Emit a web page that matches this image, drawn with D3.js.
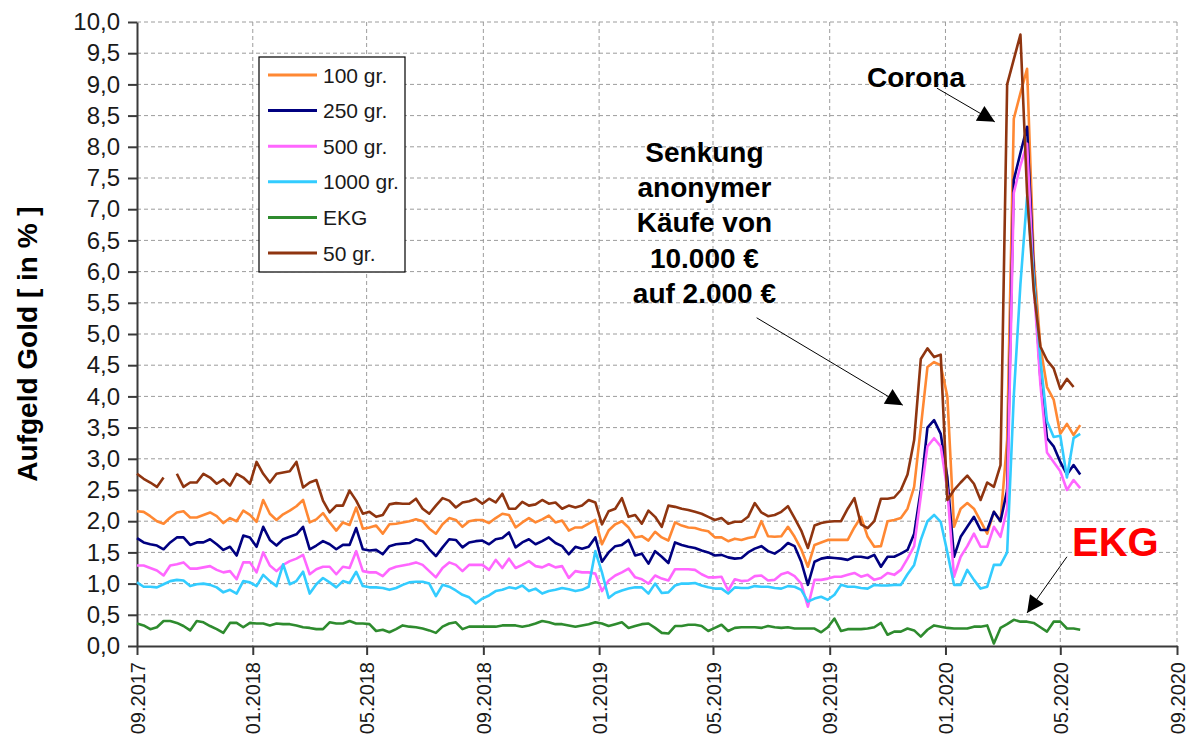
<!DOCTYPE html>
<html>
<head>
<meta charset="utf-8">
<script src="https://cdn.jsdelivr.net/npm/d3@7"></script>
<style>
body { margin: 0; background: #fff; }
svg { display: block; font-family: "Liberation Sans", Arial, sans-serif; }
.grid line { stroke: #9c9c9c; stroke-width: 1; stroke-dasharray: 4,3; }
.series { fill: none; stroke-width: 2.6; stroke-linejoin: round; }
.axis path, .axis line { stroke: #3a3a3a; stroke-width: 2; }
.axis text { fill: #1a1a1a; }
</style>
</head>
<body>
<svg width="1192" height="742"></svg>
<script>
const width = 1192;
const height = 742;
const svg = d3.select("svg");

// weekly quotes, first week 01.09.2017
const firstWeek = "2017-09-01";
const axisStart = "2017-09-01";
const axisEnd = "2020-09-01";

const gr100 = [
  2.16,2.15,2.08,2.00,1.96,2.06,2.14,2.16,2.06,2.06,2.10,2.14,2.08,1.97,2.05,2.00,2.17,2.10,1.99,
  2.34,2.12,2.02,2.11,2.17,2.24,2.34,1.98,2.03,2.13,1.98,1.85,1.98,1.94,2.22,1.88,1.90,1.93,
  1.80,1.95,1.96,1.98,2.00,2.03,2.00,1.88,1.80,1.95,2.05,2.02,1.91,2.00,2.02,2.02,1.97,2.05,
  2.12,2.10,1.90,1.98,2.05,1.98,2.03,2.09,1.98,2.01,1.85,1.90,1.90,1.96,2.02,1.63,1.85,1.95,
  2.00,1.90,1.74,1.76,1.69,1.83,1.74,1.69,1.98,1.93,1.90,1.89,1.86,1.84,1.74,1.74,1.68,1.72,1.70,
  1.73,1.75,2.00,1.76,1.75,
  1.76,1.91,1.75,1.55,1.27,1.62,1.66,1.70,1.70,1.70,1.70,1.90,2.07,1.75,1.59,1.60,2.00,2.02,2.05,
  2.20,2.55,3.50,4.47,4.55,4.50,4.00,1.91,2.20,2.29,2.20,2.00,1.80,2.15,2.00,3.30,8.45,8.86,9.25,
  6.20,4.80,4.15,3.95,3.40,3.56,3.38,3.54
];

const gr250 = [
  1.73,1.66,1.63,1.61,1.55,1.66,1.74,1.74,1.62,1.66,1.66,1.71,1.63,1.54,1.59,1.45,1.77,1.74,1.59,
  1.91,1.70,1.61,1.71,1.75,1.79,1.91,1.55,1.61,1.68,1.63,1.55,1.62,1.62,1.89,1.55,1.53,1.54,
  1.47,1.60,1.63,1.64,1.65,1.71,1.68,1.55,1.44,1.58,1.71,1.70,1.58,1.66,1.68,1.69,1.63,1.71,
  1.73,1.82,1.58,1.66,1.71,1.63,1.68,1.74,1.65,1.60,1.47,1.59,1.56,1.59,1.74,1.35,1.50,1.60,
  1.62,1.70,1.45,1.48,1.32,1.52,1.43,1.33,1.66,1.62,1.59,1.57,1.53,1.50,1.45,1.46,1.42,1.40,1.41,
  1.50,1.56,1.60,1.52,1.48,
  1.55,1.65,1.60,1.35,0.98,1.35,1.40,1.42,1.41,1.40,1.38,1.43,1.43,1.41,1.46,1.27,1.43,1.43,1.48,
  1.54,1.80,2.50,3.50,3.62,3.40,2.70,1.43,1.75,1.91,2.07,1.86,1.86,2.15,2.00,2.50,7.47,7.90,8.32,
  6.00,4.30,3.33,3.20,2.95,2.75,2.90,2.75
];

const gr500 = [
  1.29,1.29,1.25,1.21,1.13,1.29,1.31,1.34,1.24,1.24,1.26,1.28,1.22,1.18,1.20,1.07,1.34,1.34,1.18,
  1.50,1.29,1.20,1.30,1.36,1.40,1.46,1.15,1.23,1.27,1.27,1.15,1.27,1.25,1.52,1.20,1.18,1.18,
  1.12,1.23,1.27,1.29,1.31,1.34,1.30,1.20,1.10,1.25,1.34,1.30,1.20,1.30,1.30,1.30,1.22,1.38,
  1.25,1.40,1.25,1.30,1.36,1.28,1.26,1.31,1.26,1.28,1.09,1.20,1.18,1.18,1.16,0.88,1.05,1.13,
  1.18,1.24,1.10,1.07,1.00,1.13,1.08,1.05,1.23,1.23,1.23,1.22,1.15,1.10,1.10,1.11,0.89,1.07,1.04,
  1.05,1.12,1.13,1.05,1.06,
  1.15,1.18,1.12,1.00,0.63,1.06,1.06,1.08,1.11,1.11,1.14,1.17,1.11,1.14,1.06,1.09,1.17,1.14,1.22,
  1.40,1.60,2.40,3.20,3.33,3.20,2.50,1.11,1.43,1.60,1.80,1.59,1.59,1.91,1.75,2.20,7.26,7.70,8.05,
  5.80,4.20,3.10,2.95,2.80,2.50,2.66,2.53
];

const gr1000 = [
  1.02,0.95,0.95,0.94,0.99,1.04,1.06,1.05,0.96,0.99,1.00,0.98,0.94,0.86,0.90,0.84,1.04,1.02,0.96,
  1.14,1.04,0.96,1.31,0.99,1.04,1.19,0.84,0.99,1.09,1.02,0.94,1.04,1.01,1.19,0.96,0.94,0.94,
  0.93,0.90,0.93,0.98,1.02,1.03,1.03,1.00,0.80,0.98,0.95,0.89,0.82,0.78,0.68,0.76,0.81,0.88,
  0.90,0.94,0.92,0.97,0.88,0.92,0.84,0.88,0.90,0.93,0.91,0.88,0.90,0.95,1.52,1.18,0.77,0.85,
  0.89,0.92,0.94,0.94,0.84,1.00,0.85,0.86,0.97,1.00,1.00,1.01,0.97,0.94,0.92,0.92,0.84,0.94,0.93,
  0.93,0.96,0.95,0.95,0.93,
  0.92,0.96,0.95,0.90,0.71,0.76,0.79,0.74,0.82,0.98,0.95,0.95,0.93,0.92,0.98,0.97,0.97,0.98,0.98,
  1.15,1.30,1.70,2.00,2.10,1.99,1.50,0.98,0.98,1.22,1.06,0.92,0.95,1.30,1.30,1.50,4.00,5.80,7.20,
  5.90,4.60,3.60,3.35,3.37,2.70,3.33,3.40
];

const ekg = [
  0.36,0.33,0.27,0.30,0.40,0.40,0.37,0.32,0.25,0.40,0.38,0.32,0.27,0.21,0.37,0.37,0.30,0.37,0.36,
  0.36,0.33,0.36,0.35,0.35,0.33,0.30,0.29,0.27,0.27,0.38,0.36,0.36,0.40,0.36,0.36,0.35,0.24,
  0.26,0.22,0.27,0.33,0.31,0.30,0.28,0.25,0.21,0.31,0.36,0.38,0.27,0.31,0.31,0.31,0.31,0.31,
  0.33,0.33,0.33,0.31,0.33,0.36,0.40,0.38,0.35,0.35,0.33,0.31,0.33,0.35,0.38,0.36,0.32,0.35,
  0.38,0.29,0.32,0.35,0.36,0.29,0.21,0.20,0.32,0.32,0.34,0.34,0.32,0.24,0.29,0.34,0.24,0.29,0.30,
  0.30,0.30,0.29,0.32,0.30,
  0.29,0.30,0.28,0.28,0.28,0.28,0.22,0.30,0.44,0.24,0.27,0.27,0.27,0.28,0.30,0.37,0.18,0.23,0.23,
  0.28,0.25,0.15,0.26,0.33,0.31,0.29,0.28,0.28,0.28,0.31,0.31,0.33,0.04,0.29,0.35,0.42,0.39,0.39,
  0.37,0.30,0.23,0.39,0.39,0.28,0.28,0.26
];

const gr50 = [
  2.76,2.68,2.62,2.55,2.70,null,2.76,2.55,2.62,2.62,2.76,2.70,2.60,2.67,2.57,2.76,2.70,2.60,2.95,
  2.76,2.62,2.76,2.78,2.80,2.95,2.54,2.62,2.66,2.33,2.14,2.25,2.25,2.49,2.33,2.12,2.15,2.07,
  2.10,2.27,2.29,2.28,2.28,2.36,2.20,2.12,2.25,2.37,2.33,2.22,2.30,2.32,2.36,2.28,2.36,2.30,
  2.44,2.20,2.20,2.31,2.25,2.27,2.34,2.28,2.30,2.20,2.25,2.22,2.25,2.34,2.30,1.95,2.16,2.20,
  2.37,2.07,2.10,1.96,2.17,2.07,1.91,2.25,2.23,2.20,2.18,2.15,2.12,2.07,2.02,2.05,1.96,1.99,1.99,
  2.07,2.29,2.14,2.08,2.10,
  2.15,2.24,2.05,1.85,1.57,1.93,1.97,1.99,2.00,2.00,2.20,2.37,1.95,1.89,2.00,2.36,2.36,2.38,2.50,
  2.75,3.30,4.60,4.77,4.63,4.67,2.34,2.50,2.62,2.73,2.60,2.34,2.62,2.55,2.90,9.00,9.40,9.80,
  7.26,5.70,4.80,4.58,4.45,4.12,4.28,4.15,null
];

const seriesNames = ["100 gr.", "250 gr.", "500 gr.", "1000 gr.", "EKG", "50 gr."];
const seriesValues = [gr100, gr250, gr500, gr1000, ekg, gr50];
const seriesColors = ["#ff8833", "#000080", "#ff66ff", "#33ccff", "#2e8b2e", "#8f3510"];

const yTicks = d3.range(0, 10.001, 0.5);

const senkungLines = ["Senkung", "anonymer", "Käufe von", "10.000 €", "auf 2.000 €"];
const notes = [
  { lines: senkungLines, at: ["2019-04-22", 7.76], size: 28, color: "#000" },
  { lines: ["Corona"], at: ["2019-12-01", 8.96], size: 28, color: "#000" },
  { lines: ["EKG"], at: ["2020-06-28", 1.44], size: 40, color: "#ff0000" }
];
const arrows = [
  { from: ["2019-06-16", 5.26], to: ["2019-11-17", 3.86] },
  { from: ["2019-12-23", 8.94], to: ["2020-02-22", 8.40] },
  { from: ["2020-05-08", 1.43], to: ["2020-03-27", 0.53] }
];

const plot = { left: 137, right: 1177, top: 22, bottom: 646 };
const parse = d3.utcParse("%Y-%m-%d");

const x = d3.scaleUtc()
  .domain([parse(axisStart), parse(axisEnd)])
  .range([plot.left, plot.right]);
const y = d3.scaleLinear()
  .domain([0, 10])
  .range([plot.bottom, plot.top]);

const weeks = d3.range(gr100.length).map(i => d3.utcDay.offset(parse(firstWeek), 7 * i));
const xTicks = d3.utcMonth.every(4).range(parse(axisStart), d3.utcDay.offset(parse(axisEnd), 1));

const de = d3.formatLocale({ decimal: ",", thousands: ".", grouping: [3], currency: ["", " €"] });
const yFormat = de.format(".1f");

// grid
const grid = svg.append("g").attr("class", "grid");
grid.selectAll(".h")
  .data(yTicks.filter(d => d > 0))
  .enter()
  .append("line")
  .attr("x1", plot.left)
  .attr("x2", plot.right)
  .attr("y1", d => y(d))
  .attr("y2", d => y(d));
grid.selectAll(".v")
  .data(xTicks.slice(1))
  .enter()
  .append("line")
  .attr("x1", d => x(d))
  .attr("x2", d => x(d))
  .attr("y1", plot.top)
  .attr("y2", plot.bottom);

// axes
svg.append("g")
  .attr("class", "axis")
  .attr("transform", `translate(${plot.left},0)`)
  .call(d3.axisLeft(y).tickValues(yTicks).tickFormat(yFormat).tickSize(9).tickSizeOuter(0).tickPadding(8))
  .call(g => g.selectAll("text").style("font-size", "24px"));

svg.append("g")
  .attr("class", "axis")
  .attr("transform", `translate(0,${plot.bottom})`)
  .call(d3.axisBottom(x).tickValues(xTicks).tickFormat(d3.utcFormat("%m.%Y")).tickSize(9).tickSizeOuter(0))
  .call(g => g.selectAll("text")
    .style("font-size", "20px")
    .attr("transform", "rotate(-90)")
    .attr("text-anchor", "end")
    .attr("x", -16)
    .attr("y", 0)
    .attr("dy", "0.36em"));

svg.append("text")
  .attr("transform", `translate(37,${(plot.top + plot.bottom) / 2 + 10}) rotate(-90)`)
  .attr("text-anchor", "middle")
  .style("font-size", "28px")
  .style("font-weight", "bold")
  .text("Aufgeld Gold [ in % ]");

// lines
const line = d3.line()
  .defined(d => d.v != null)
  .x(d => x(d.t))
  .y(d => y(d.v));

svg.append("g")
  .selectAll("path")
  .data(seriesValues)
  .enter()
  .append("path")
  .attr("class", "series")
  .attr("stroke", (d, i) => seriesColors[i])
  .attr("d", vals => line(vals.map((v, i) => ({ t: weeks[i], v: v }))));

// annotations
svg.append("defs").append("marker")
  .attr("id", "head")
  .attr("viewBox", "0 0 10 10")
  .attr("refX", 10)
  .attr("refY", 5)
  .attr("markerUnits", "userSpaceOnUse")
  .attr("markerWidth", 22)
  .attr("markerHeight", 17)
  .attr("orient", "auto")
  .append("path")
  .attr("d", "M0,0L10,5L0,10z")
  .attr("fill", "#000");

svg.append("g")
  .selectAll("line")
  .data(arrows)
  .enter()
  .append("line")
  .attr("x1", d => x(parse(d.from[0])))
  .attr("y1", d => y(d.from[1]))
  .attr("x2", d => x(parse(d.to[0])))
  .attr("y2", d => y(d.to[1]))
  .attr("stroke", "#000")
  .attr("stroke-width", 1)
  .attr("marker-end", "url(#head)");

notes.forEach(n => {
  const t = svg.append("text")
    .attr("x", x(parse(n.at[0])))
    .attr("y", y(n.at[1]))
    .attr("text-anchor", "middle")
    .style("font-size", n.size + "px")
    .style("font-weight", "bold")
    .attr("fill", n.color);
  n.lines.forEach((l, i) => {
    t.append("tspan")
      .attr("x", x(parse(n.at[0])))
      .attr("dy", i === 0 ? 0 : 35.3)
      .text(l);
  });
});

// legend
const legend = svg.append("g").attr("transform", "translate(259,57)");
legend.append("rect")
  .attr("width", 146)
  .attr("height", 215)
  .attr("fill", "#fff")
  .attr("stroke", "#000")
  .attr("stroke-width", 1.2);
const rows = legend.selectAll(".row")
  .data(seriesNames)
  .enter()
  .append("g")
  .attr("transform", (d, i) => `translate(0,${18 + i * 35.6})`);
rows.append("line")
  .attr("x1", 9)
  .attr("x2", 58)
  .attr("stroke", (d, i) => seriesColors[i])
  .attr("stroke-width", 3);
rows.append("text")
  .attr("x", 64)
  .attr("dy", "0.36em")
  .style("font-size", "21px")
  .attr("fill", "#1a1a1a")
  .text(d => d);
</script>
</body>
</html>
